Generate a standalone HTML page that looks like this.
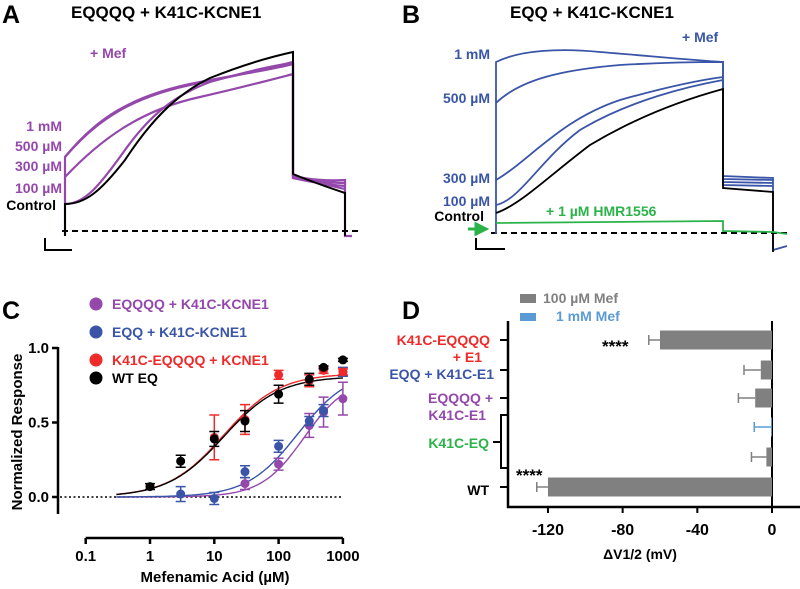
<!DOCTYPE html>
<html><head><meta charset="utf-8"><style>
body{margin:0;background:#fff;width:800px;height:589px;overflow:hidden}
svg{display:block;font-family:"Liberation Sans",sans-serif;font-weight:bold}
</style></head><body>
<svg id="fig" width="800" height="589" viewBox="0 0 800 589">
<!-- Panel A -->
<g>
<text x="2" y="23" font-size="25">A</text>
<text x="71" y="18" font-size="17">EQQQQ + K41C-KCNE1</text>
<text x="90" y="58" font-size="14" fill="#9448ab">+ Mef</text>
<g font-size="14" fill="#9448ab" text-anchor="end">
<text x="62" y="131">1 mM</text>
<text x="62" y="151">500 µM</text>
<text x="62" y="171">300 µM</text>
<text x="62" y="193">100 µM</text>
<text x="56" y="210" fill="#000">Control</text>
</g>
<line x1="62" y1="231" x2="358" y2="231" stroke="#000" stroke-width="2" stroke-dasharray="6,4"/>
<g fill="none" stroke="#9448ab" stroke-width="2.2">
<path d="M65,236 L65,157 C95,120 130,95 200,82 C240,74 270,70 293,64 L293,176 C310,180 330,181 345,180 L345,236 L352,236"/>
<path d="M65,157 C95,122 130,96 200,83 C245,74 270,68 293,62 L293,178 C315,181 330,183 345,183"/>
<path d="M65,177 C100,140 140,110 200,97 C240,88 270,80 293,74 L293,178 C315,183 330,185 345,186"/>
<path d="M65,204 C85,204 100,185 125,150 C150,115 175,95 210,82 C245,72 270,66 293,63 L293,176 C315,182 330,186 345,189"/>
</g>
<path d="M65,236 L65,204 C85,204 100,192 125,160 C150,122 175,95 210,78 C240,66 270,57 293,52 L293,174 C315,183 330,188 345,193 L345,236" fill="none" stroke="#000" stroke-width="2"/>
<path d="M45,238 L45,250 L72,250" fill="none" stroke="#000" stroke-width="2"/>
</g>
<!-- Panel B -->
<g>
<text x="402" y="23" font-size="25">B</text>
<text x="510" y="18" font-size="17">EQQ + K41C-KCNE1</text>
<text x="682" y="42" font-size="14" fill="#3a55a8">+ Mef</text>
<g font-size="14" fill="#3a55a8" text-anchor="end">
<text x="490" y="59">1 mM</text>
<text x="490" y="103">500 µM</text>
<text x="490" y="183">300 µM</text>
<text x="490" y="206">100 µM</text>
<text x="484" y="221" fill="#000">Control</text>
</g>
<text x="546" y="216" font-size="14" fill="#2bb34a">+ 1 µM HMR1556</text>
<path d="M468,229 L480,229 M476,224 L486,229 L476,234 Z" fill="#2bb34a" stroke="#2bb34a" stroke-width="3"/>
<line x1="491" y1="233" x2="787" y2="233" stroke="#000" stroke-width="2" stroke-dasharray="6,4"/>
<g fill="none" stroke="#3a55a8" stroke-width="1.8">
<path d="M496,234 L496,62 C520,50 560,48 600,52 C650,56 690,60 723,62 L723,176 L773,178 L773,250 L787,246"/>
<path d="M496,103 C520,80 560,70 620,65 C670,62 700,62 723,62 L723,179 L773,180"/>
<path d="M496,180 C530,160 560,120 620,100 C670,86 700,80 723,77 L723,182 L773,183"/>
<path d="M496,205 C520,200 540,160 580,130 C630,100 690,86 723,80 L723,185 L773,186"/>
</g>
<path d="M496,213 C520,205 550,175 590,145 C640,115 690,98 723,89 L723,188 L773,192 L773,252" fill="none" stroke="#000" stroke-width="1.8"/>
<path d="M496,223 L723,221 L723,231 L773,232 L787,234" fill="none" stroke="#2bb34a" stroke-width="1.8"/>
<path d="M476,238 L476,249 L505,249" fill="none" stroke="#000" stroke-width="2"/>
</g>
<!-- Panel C -->
<g id="panelC">
<text x="2" y="319" font-size="25">C</text>
<text transform="translate(22,432) rotate(-90)" text-anchor="middle" font-size="15">Normalized Response</text>
<text x="215" y="582" text-anchor="middle" font-size="15">Mefenamic Acid (µM)</text>
</g>
<!-- Panel D -->
<g id="panelD">
<text x="402" y="319" font-size="25">D</text>
<rect x="520" y="294" width="16" height="9" fill="#808080"/>
<text x="543" y="303" font-size="14" fill="#808080">100 µM Mef</text>
<rect x="520" y="313" width="16" height="8" fill="#5b9bd5"/>
<text x="556" y="321" font-size="14" fill="#5b9bd5">1 mM Mef</text>
<g font-size="14" text-anchor="end">
<text x="490" y="345" fill="#ee2a2a">K41C-EQQQQ</text>
<text x="482" y="362" fill="#ee2a2a">+ E1</text>
<text x="494" y="379" fill="#3a55a8">EQQ + K41C-E1</text>
<text x="493" y="403" fill="#9448ab">EQQQQ +</text>
<text x="486" y="420" fill="#9448ab">K41C-E1</text>
<text x="489" y="448" fill="#2bb34a">K41C-EQ</text>
<text x="489" y="495" fill="#000">WT</text>
</g>
<path d="M508,415 L501,415 L501,468 L508,468 M501,442 L493,442" fill="none" stroke="#000" stroke-width="2"/>
<text x="640" y="559" text-anchor="middle" font-size="14">ΔV1/2 (mV)</text>
</g>
<script>
// ---- Panel C data ----
var cConc = [1, 3, 10, 30, 100, 300, 500, 1000];
var purpleVals = [null, null, null, 0.09, 0.22, 0.48, 0.57, 0.66];
var purpleErr = [null, null, null, 0.04, 0.04, 0.08, 0.10, 0.11];
var blueVals = [null, 0.02, -0.01, 0.17, 0.34, 0.51, 0.58, 0.84];
var blueErr = [null, 0.05, 0.04, 0.04, 0.04, 0.03, 0.04, 0.03];
var redVals = [null, null, 0.40, 0.52, 0.82, 0.78, 0.85, 0.84];
var redErr = [null, null, 0.15, 0.10, 0.03, 0.04, 0.02, 0.02];
var blackVals = [0.07, 0.24, 0.39, 0.51, 0.69, 0.79, 0.87, 0.92];
var blackErr = [0.02, 0.04, 0.05, 0.07, 0.06, 0.04, 0.01, 0.01];
var fitTop = [0.80, 0.85, 0.83, 0.81];
var fitEC50 = [250, 200, 14, 14];
var fitHill = [1.3, 1.1, 1.0, 1.0];
var cXTicks = [0.1, 1, 10, 100, 1000];
var cXTickLabels = ["0.1", "1", "10", "100", "1000"];
var cYTicks = [0, 0.5, 1.0];
var cYTickLabels = ["0.0", "0.5", "1.0"];
var legendNames = ["EQQQQ + K41C-KCNE1", "EQQ + K41C-KCNE1", "K41C-EQQQQ + KCNE1", "WT EQ"];
// ---- Panel D data ----
var dCategories = ["K41C-EQQQQ + E1", "EQQ + K41C-E1", "EQQQQ + K41C-E1", "K41C-EQ 1 mM", "K41C-EQ 100 µM", "WT"];
var dValues = [-60, -6, -9, -0.5, -3, -120];
var dErrors = [6, 9, 9, 9, 8, 6];
var dSeries = ["gray", "gray", "gray", "blue", "gray", "gray"];
var dXTicks = [-120, -80, -40, 0];
var dXTickLabels = ["-120", "-80", "-40", "0"];
var dStars = ["****", "", "", "", "", "****"];

var NS = "http://www.w3.org/2000/svg";
function mk(parent, tag, attrs) {
  var e = document.createElementNS(NS, tag);
  for (var k in attrs) e.setAttribute(k, attrs[k]);
  parent.appendChild(e);
  return e;
}
var colors = ["#9448ab", "#3a55a8", "#ee2a2a", "#000000"];
var gC = document.getElementById("panelC");
function cx(v) { return 150 + Math.log10(v) * 64.3; }
function cy(v) { return 497 - v * 149; }
var ya = mk(gC, "line", {x1: 58, y1: 347, x2: 58, y2: 514, stroke: "#000", "stroke-width": 2.5});


var xa = mk(gC, "line", {x1: cx(0.1), y1: 538, x2: cx(1000), y2: 538, stroke: "#000", "stroke-width": 2.5});


var zl = mk(gC, "line", {x1: 60, y1: cy(0), x2: cx(1000), y2: cy(0), stroke: "#000", "stroke-width": 1.5, "stroke-dasharray": "2,2.5"});


cYTicks.forEach(function (t, i) {
  var l = mk(gC, "line", {x1: 52, y1: cy(t), x2: 58, y2: cy(t), stroke: "#000", "stroke-width": 2.5});
  
  
  var tx = mk(gC, "text", {x: 49, y: cy(t) + 5, "text-anchor": "end", "font-size": 15});
  tx.textContent = cYTickLabels[i];
  
  
});
cXTicks.forEach(function (t, i) {
  var l = mk(gC, "line", {x1: cx(t), y1: 538, x2: cx(t), y2: 544, stroke: "#000", "stroke-width": 2.5});
  
  
  var tx = mk(gC, "text", {x: cx(t), y: 561, "text-anchor": "middle", "font-size": 15});
  tx.textContent = cXTickLabels[i];
  
  
});
var allVals = [purpleVals, blueVals, redVals, blackVals];
var allErr = [purpleErr, blueErr, redErr, blackErr];
var seriesNames = ["purple", "blue", "red", "black"];
[0, 1, 2, 3].forEach(function (s) {
  var d = "";
  for (var i = 0; i <= 120; i++) {
    var lx = Math.log10(0.3) + i * (3 - Math.log10(0.3)) / 120;
    var c = Math.pow(10, lx);
    var v = fitTop[s] / (1 + Math.pow(fitEC50[s] / c, fitHill[s]));
    d += (i ? "L" : "M") + cx(c).toFixed(1) + "," + cy(v).toFixed(1);
  }
  var p = mk(gC, "path", {d: d, fill: "none", stroke: colors[s], "stroke-width": 1.4});
  
  
});
[0, 1, 2, 3].forEach(function (s) {
  cConc.forEach(function (c, i) {
    var v = allVals[s][i];
    if (v === null) return;
    var e = allErr[s][i], x = cx(c);
    var eb = mk(gC, "path", {d: "M" + x + "," + cy(v - e) + "L" + x + "," + cy(v + e) + "M" + (x - 5) + "," + cy(v - e) + "L" + (x + 5) + "," + cy(v - e) + "M" + (x - 5) + "," + cy(v + e) + "L" + (x + 5) + "," + cy(v + e), stroke: colors[s], "stroke-width": 1.5, fill: "none"});
    
    
    var pt = mk(gC, "circle", {cx: x, cy: cy(v), r: 4.5, fill: colors[s]});
    
    
  });
});
legendNames.forEach(function (n, i) {
  var y = [304, 332, 360, 378][i];
  var c = mk(gC, "circle", {cx: 96, cy: y, r: 6.5, fill: colors[i]});
  
  
  var t = mk(gC, "text", {x: 112, y: y + 5, "font-size": 14, fill: colors[i]});
  t.textContent = n;
  
  
});
// ---- Panel D ----
var gD = document.getElementById("panelD");
function dx(v) { return 772 + v * 1.867; }
var dRowY = [340, 370, 398, 427, 457, 487];
var dya = mk(gD, "line", {x1: 508, y1: 321, x2: 508, y2: 508, stroke: "#000", "stroke-width": 2.5});


var dxa = mk(gD, "line", {x1: 507, y1: 507, x2: 800, y2: 507, stroke: "#000", "stroke-width": 2.5});


var zv = mk(gD, "line", {x1: dx(0), y1: 321, x2: dx(0), y2: 507, stroke: "#000", "stroke-width": 2});


[0, 1, 2, 5].forEach(function (i) {
  var l = mk(gD, "line", {x1: 500, y1: dRowY[i], x2: 508, y2: dRowY[i], stroke: "#000", "stroke-width": 2});
  
  
});
dXTicks.forEach(function (t, i) {
  var l = mk(gD, "line", {x1: dx(t), y1: 507, x2: dx(t), y2: 513, stroke: "#000", "stroke-width": 2});
  
  
  var tx = mk(gD, "text", {x: dx(t), y: 535, "text-anchor": "middle", "font-size": 16});
  tx.textContent = dXTickLabels[i];
  
  
});
dCategories.forEach(function (c, i) {
  var v = dValues[i], y = dRowY[i], col = dSeries[i] === "blue" ? "#5b9bd5" : "#808080";
  var h = 19;
  var b = mk(gD, "rect", {x: dx(v), y: y - h / 2, width: dx(0) - dx(v), height: h, fill: col});
  
  
  var ex = dx(v - dErrors[i]);
  var eb = mk(gD, "path", {d: "M" + dx(v) + "," + y + "L" + ex + "," + y + "M" + ex + "," + (y - 5) + "L" + ex + "," + (y + 5), stroke: col, "stroke-width": 1.5, fill: "none"});
  
  
  if (dStars[i]) {
    var st = mk(gD, "text", {x: i === 0 ? 602 : 516, y: i === 0 ? 352 : 481, "font-size": 17});
    st.textContent = dStars[i];
    
    
  }
});
</script>
</svg>
</body></html>
